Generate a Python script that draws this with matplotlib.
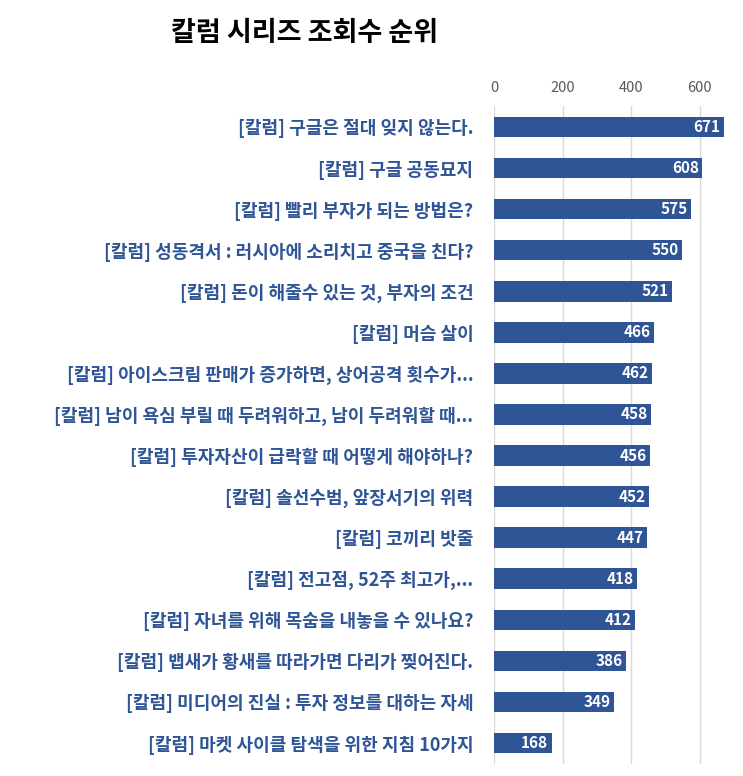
import matplotlib
matplotlib.use('Agg')
import matplotlib.pyplot as plt

plt.rcParams['font.family'] = ['Noto Sans CJK KR', 'DejaVu Sans']

titles = [
    '[칼럼] 구글은 절대 잊지 않는다.',
    '[칼럼] 구글 공동묘지',
    '[칼럼] 빨리 부자가 되는 방법은?',
    '[칼럼] 성동격서 : 러시아에 소리치고 중국을 친다?',
    '[칼럼] 돈이 해줄수 있는 것, 부자의 조건',
    '[칼럼] 머슴 살이',
    '[칼럼] 아이스크림 판매가 증가하면, 상어공격 횟수가...',
    '[칼럼] 남이 욕심 부릴 때 두려워하고, 남이 두려워할 때...',
    '[칼럼] 투자자산이 급락할 때 어떻게 해야하나?',
    '[칼럼] 솔선수범, 앞장서기의 위력',
    '[칼럼] 코끼리 밧줄',
    '[칼럼] 전고점, 52주 최고가,...',
    '[칼럼] 자녀를 위해 목숨을 내놓을 수 있나요?',
    '[칼럼] 뱁새가 황새를 따라가면 다리가 찢어진다.',
    '[칼럼] 미디어의 진실 : 투자 정보를 대하는 자세',
    '[칼럼] 마켓 사이클 탐색을 위한 지침 10가지',
]
views = [671, 608, 575, 550, 521, 466, 462, 458, 456, 452, 447, 418, 412, 386, 349, 168]
xticks = [0, 200, 400, 600]

blue = '#2F5597'

fig = plt.figure(figsize=(7.43, 7.76), dpi=100)
ax = fig.add_axes([0.665, 0.0161, 0.318, 0.8467])

y = list(range(len(views)))
ax.barh(y, views, height=0.5, color=blue, zorder=3)
ax.set_ylim(len(views) - 0.5, -0.5)
ax.set_xlim(0, 690)

for i, v in enumerate(views):
    ax.text(v - 10, i, str(v), ha='right', va='center', color='white',
            fontsize=11, fontweight='bold', zorder=4)

ax.set_yticks(y)
ax.set_yticklabels(titles, fontsize=13, fontweight='bold', color=blue)
ax.tick_params(axis='y', length=0, pad=15)

ax.xaxis.tick_top()
ax.set_xticks(xticks)
ax.tick_params(axis='x', length=0, labelsize=10.5, labelcolor='#595959', pad=8)
ax.grid(axis='x', color='#D9D9D9', linewidth=1, zorder=0)

for s in ax.spines.values():
    s.set_visible(False)

fig.text(0.41, 0.958, '칼럼 시리즈 조회수 순위', ha='center', va='center',
         fontsize=19.5, fontweight='bold', color='black')

fig.savefig('out.png', dpi=100)
